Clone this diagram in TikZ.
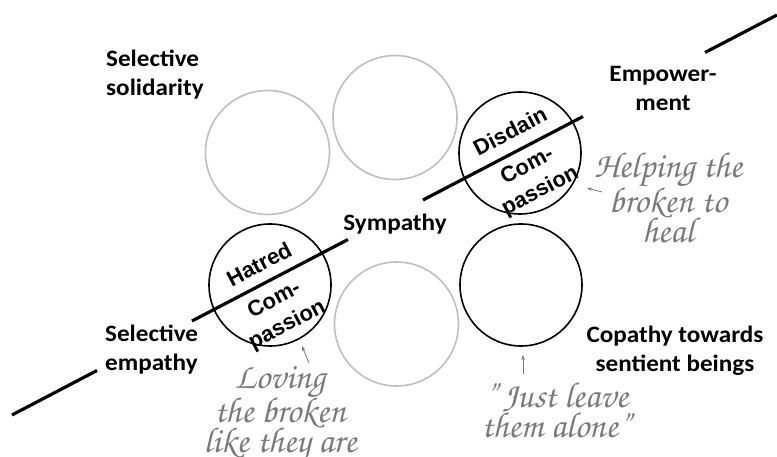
\documentclass[tikz,border=0pt]{standalone}
\usepackage{fontspec}
\usetikzlibrary{arrows.meta}
\newfontfamily\labfont[FakeStretch=1.07]{Carlito}
\newfontfamily\cfont{Liberation Sans}
\newfontfamily\scriptf{texgyrechorus-mediumitalic.otf}
\definecolor{ringgray}{HTML}{BFBFBF}
\definecolor{scriptgray}{HTML}{7A7A7A}
\begin{document}
\begin{tikzpicture}[x=1pt,y=-1pt,
  lab/.style={font={\labfont\bfseries\fontsize{23.5}{29}\selectfont},inner sep=0pt},
  ring/.style={circle,draw=ringgray,line width=1.6pt,minimum size=124pt,inner sep=0pt},
  bring/.style={circle,draw=black,line width=1.6pt,minimum size=122pt,inner sep=0pt},
  intext/.style={font={\cfont\bfseries\fontsize{22}{28}\selectfont},rotate=27.6,inner sep=0pt,align=center},
  scr/.style={font={\scriptf\fontsize{36}{30}\selectfont},text=scriptgray,inner sep=0pt,align=center},
  axisline/.style={line width=3.2pt,black},
  pointer/.style={draw=scriptgray,line width=0.8pt,-{Stealth[length=5pt,width=3.5pt]}}]
\useasboundingbox (0,0) rectangle (777,457);
% circles
\node[ring] (c1) at (267.5,152.5) {};
\node[ring] (c2) at (395,117.5) {};
\node[bring] (c3) at (520,153) {};
\node[bring] (c4) at (270,285) {};
\node[ring] (c5) at (396.5,324) {};
\node[bring] (c6) at (521,285) {};
% axis line
\coordinate (l1) at (12,415);
\coordinate (l2) at (97,370.5);
\coordinate (l3) at (192,321);
\coordinate (l4) at (348,239.5);
\coordinate (l5) at (423,200);
\coordinate (l6) at (583,116.5);
\coordinate (l7) at (705,52.5);
\coordinate (l8) at (777,15);
\draw[axisline] (l1) -- (l2);
\draw[axisline] (l3) -- (l4);
\draw[axisline] (l5) -- (l6);
\draw[axisline] (l7) -- (l8);
% labels
\node[lab,anchor=west,align=left] (solid) at (106,75) {Selective\\solidarity};
\node[lab,align=center] (empow) at (663,88) {Empower-\\ment};
\node[lab] (symp) at (395,224) {Sympathy};
\node[lab,anchor=west,align=left] (emp) at (105,350) {Selective\\empathy};
\node[lab,align=center] (copa) at (675,351) {Copathy towards\\sentient beings};
% circle texts
\node[intext] (disd) at (510,131) {Disdain};
\node[intext] (comp1) at (534,179) {Com-\\passion};
\node[intext] (hatr) at (259,264) {Hatred};
\node[intext] (comp2) at (281,313) {Com-\\passion};
% script texts
\node[scr] (help) at (668,198) {Helping the\\broken to\\heal};
\node[scr] (lov) at (280,414) {Loving\\the broken\\like they are};
\node[scr] (just) at (556,411) {”\,Just leave\\them alone”};
% pointers
\coordinate (a1t) at (602,192);
\coordinate (a1h) at (587,188);
\coordinate (a2t) at (309,363);
\coordinate (a2h) at (302,346);
\coordinate (a3t) at (523,374);
\coordinate (a3h) at (523,355);
\draw[pointer] (a1t) -- (a1h);
\draw[pointer] (a2t) -- (a2h);
\draw[pointer] (a3t) -- (a3h);
\end{tikzpicture}
\end{document}
